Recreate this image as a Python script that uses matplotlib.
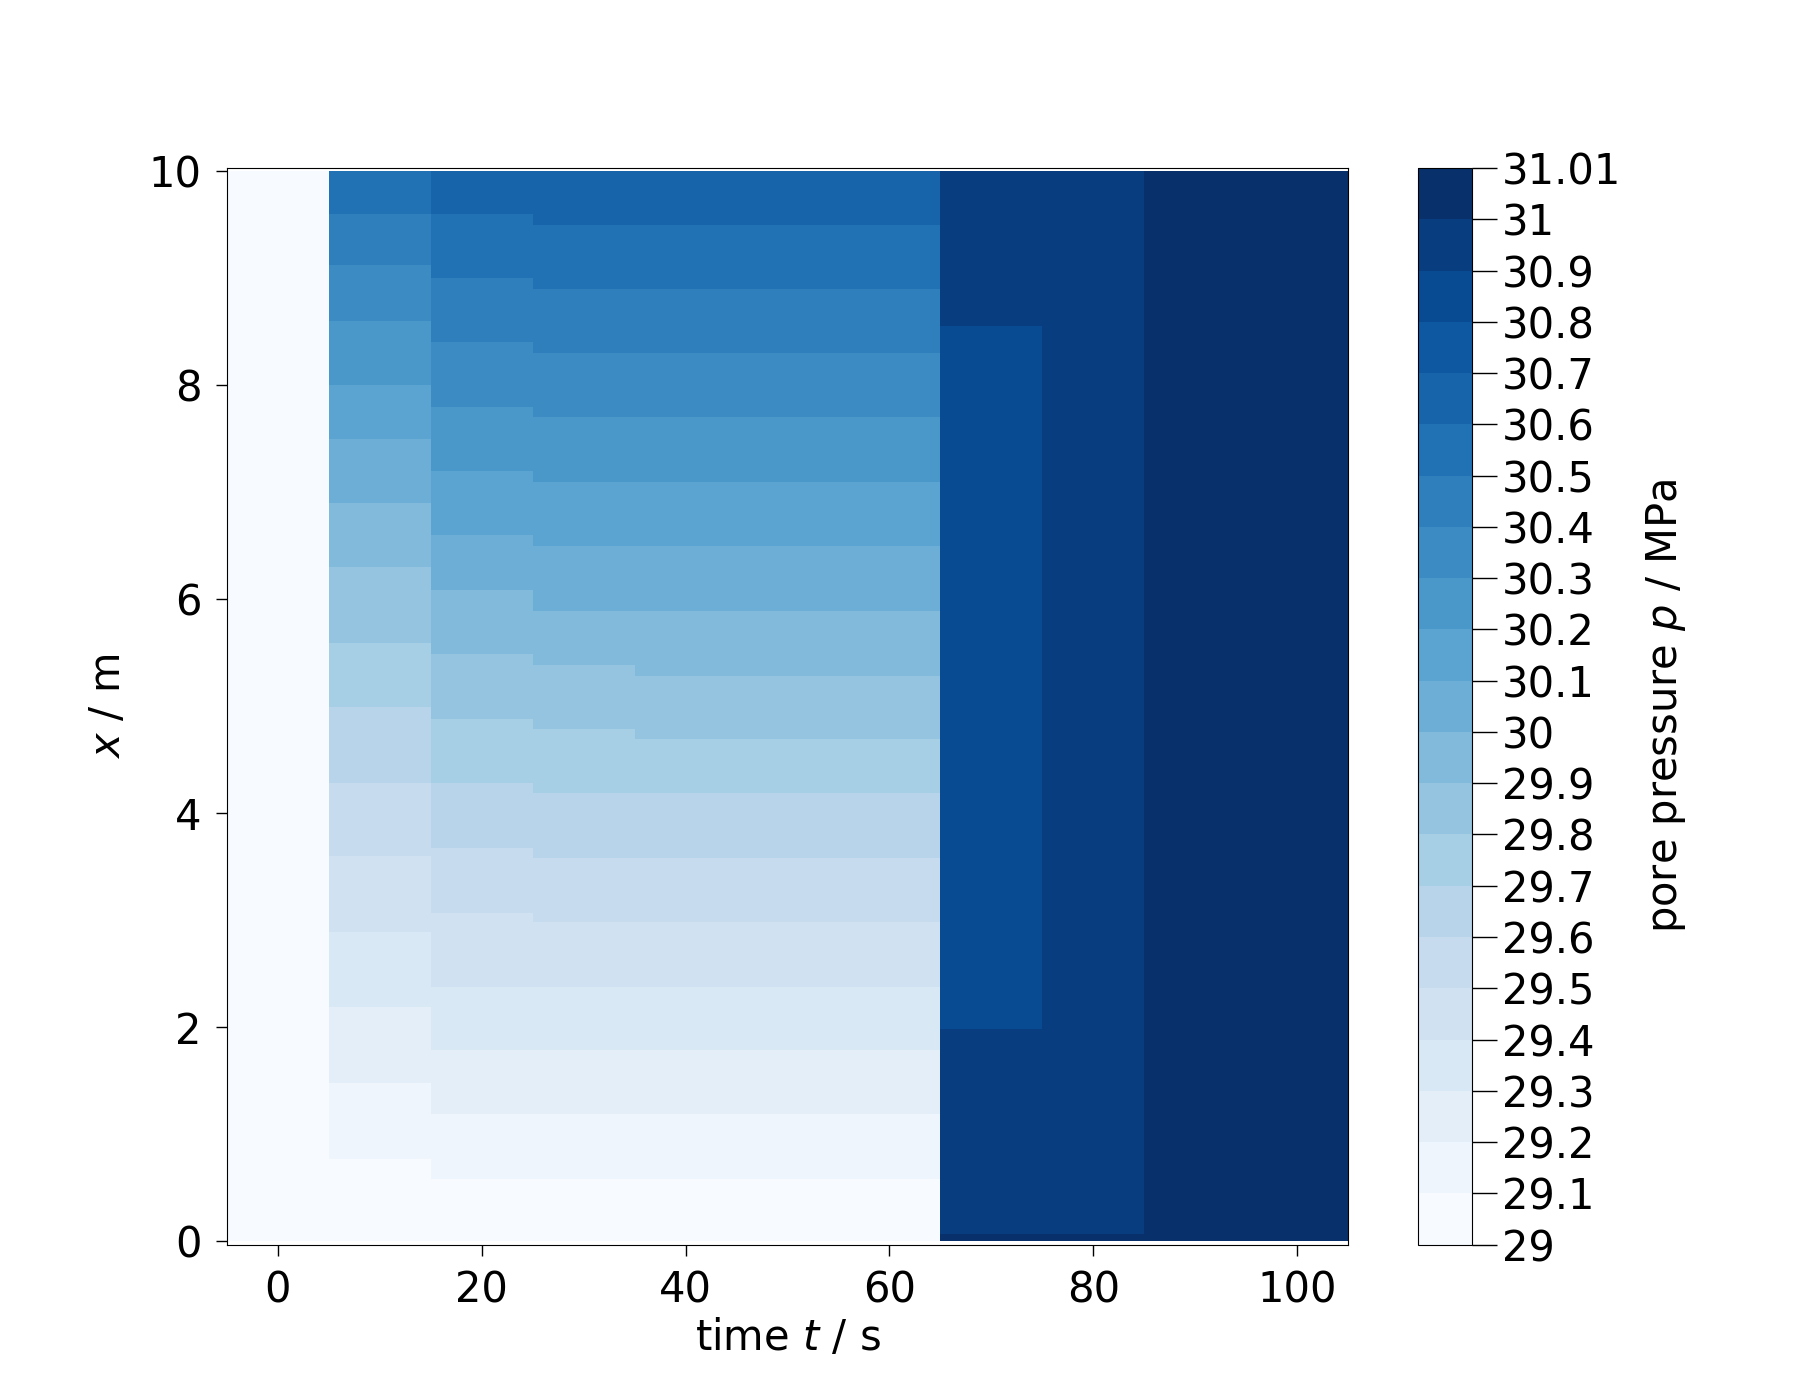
import numpy as np
import matplotlib
matplotlib.use("Agg")
import matplotlib.pyplot as plt
from matplotlib.colors import BoundaryNorm

# time columns (s)
times = [0, 10, 20, 30, 40, 50, 60, 70, 80, 90, 100]

# pressure levels (MPa)
levels = [29.0, 29.1, 29.2, 29.3, 29.4, 29.5, 29.6, 29.7, 29.8, 29.9, 30.0,
          30.1, 30.2, 30.3, 30.4, 30.5, 30.6, 30.7, 30.8, 30.9, 31.0, 31.01]

# band edges in x (m) read per column, and bin index of each band (bottom to top)
edges_t0 = []
bins_t0 = [0]
edges_t10 = [0.77, 1.48, 2.19, 2.89, 3.6, 4.28, 4.99, 5.59, 6.3, 6.9, 7.5, 8.0, 8.6, 9.12, 9.6]
bins_t10 = list(range(16))
edges_t20 = [0.58, 1.19, 1.79, 2.38, 3.07, 3.68, 4.28, 4.88, 5.49, 6.09, 6.6, 7.2, 7.8, 8.4, 9.0, 9.6]
bins_t20 = list(range(17))
edges_t30 = [0.58, 1.19, 1.79, 2.38, 2.98, 3.58, 4.19, 4.79, 5.39, 5.89, 6.5, 7.1, 7.7, 8.3, 8.9, 9.5]
bins_t30 = list(range(17))
edges_t40 = [0.58, 1.19, 1.79, 2.38, 2.98, 3.58, 4.19, 4.69, 5.28, 5.89, 6.5, 7.1, 7.7, 8.3, 8.9, 9.5]
bins_t40 = list(range(17))
edges_t70 = [0.07, 1.98, 8.55]
bins_t70 = [20, 19, 18, 19]
edges_t80 = [0.07]
bins_t80 = [20, 19]
edges_t90 = []
bins_t90 = [20]

columns = [(edges_t0, bins_t0), (edges_t10, bins_t10), (edges_t20, bins_t20),
           (edges_t30, bins_t30), (edges_t40, bins_t40), (edges_t40, bins_t40),
           (edges_t40, bins_t40), (edges_t70, bins_t70), (edges_t80, bins_t80),
           (edges_t90, bins_t90), (edges_t90, bins_t90)]

# build grid from band data
y_edges = np.linspace(0, 10, 1001)
y_mid = 0.5 * (y_edges[1:] + y_edges[:-1])
mids = 0.5 * (np.array(levels[1:]) + np.array(levels[:-1]))
Z = np.zeros((len(y_mid), len(times)))
for j, (e, b) in enumerate(columns):
    idx = np.searchsorted(e, y_mid)
    Z[:, j] = mids[np.array(b)[idx]]

t_edges = np.concatenate([[times[0] - 5], np.array(times) + 5])

plt.rcParams["font.size"] = 30
fig = plt.figure(figsize=(18, 14), dpi=100)
ax = fig.add_axes([0.126, 0.111, 0.623, 0.769])
cax = fig.add_axes([0.788, 0.111, 0.030, 0.769])

cmap = plt.get_cmap("Blues")
norm = BoundaryNorm(levels, cmap.N)
mesh = ax.pcolormesh(t_edges, y_edges, Z, cmap=cmap, norm=norm, shading="flat")

ax.set_xlim(-5, 105)
ax.set_ylim(-0.03, 10.03)
ax.set_xticks([0, 20, 40, 60, 80, 100])
ax.set_yticks([0, 2, 4, 6, 8, 10])
ax.tick_params(length=8, width=1, pad=10)
ax.set_xlabel("time $t$ / s", labelpad=4)
ax.set_ylabel("$x$ / m", labelpad=14)

cb = fig.colorbar(mesh, cax=cax, ticks=levels, spacing="uniform")
cb.ax.set_yticklabels(["%g" % v for v in levels])
cb.ax.tick_params(length=18, width=1)
cb.set_label("pore pressure $p$ / MPa", labelpad=16)
cb.outline.set_linewidth(0.8)

fig.savefig("out.png", dpi=100)
